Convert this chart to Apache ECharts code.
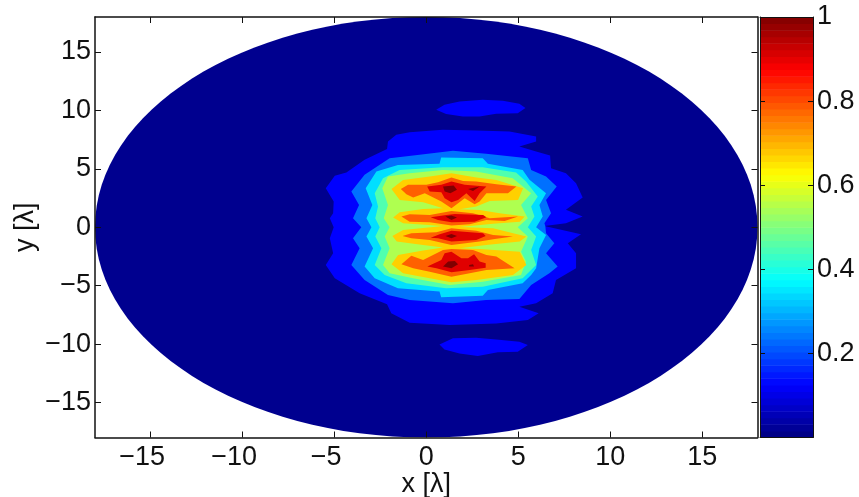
<!DOCTYPE html>
<html>
<head>
<meta charset="utf-8">
<style>html,body{margin:0;padding:0;background:#fff}#c{width:859px;height:497px}</style>
<script src="https://cdn.jsdelivr.net/npm/echarts@6/dist/echarts.min.js"></script>
</head>
<body>
<div id="c"></div>
<script>
const xTicks = [-15,-10,-5,0,5,10,15];
const yTicks = [-15,-10,-5,0,5,10,15];
const barTicks = [0.2,0.4,0.6,0.8,1];
const apertureRadius = 18;
const levelColors = ['#00008f','#0000ff','#0070ff','#00dfff','#50ffaf','#afff50','#ffd000','#ff6000','#e00000','#800000'];

const level1Main = [[-5.03,0],[-5.24,0.77],[-5.06,1.2],[-5.03,2.2],[-5.46,3.34],[-4.97,4.4],[-4.34,4.69],[-3.35,5.77],[-2.13,6.69],[-2.08,7.34],[-1.63,7.91],[-0.9,8.14],[0.9,8.34],[2.71,8.29],[4.52,8.2],[5.97,7.77],[5.97,7.34],[5.06,6.91],[5.97,6.49],[6.73,6.14],[6.78,5.06],[7.59,4.63],[8.14,3.77],[8.5,2.54],[7.59,1.49],[8.5,0.91],[7.59,0.34],[6.42,0.11],[8.41,-0.6],[7.69,-1.37],[8.14,-2.23],[8.14,-3.51],[7.05,-4.51],[6.87,-5.66],[5.97,-6.51],[5.06,-6.8],[6.11,-7.37],[5.52,-7.94],[3.8,-8.23],[1.27,-8.37],[-0.9,-8.17],[-1.9,-7.37],[-2.13,-6.6],[-3.62,-5.66],[-4.97,-4.37],[-5.46,-3.23],[-5.06,-2.23],[-5.24,-0.94]];
const level1Top = [[0.54,10.06],[0.99,10.49],[1.81,10.77],[3.07,10.91],[4.16,10.83],[5.06,10.57],[5.39,10.2],[4.97,9.77],[3.8,9.71],[2.89,9.49],[1.99,9.49],[1.08,9.69]];
const level1Bottom = [[0.72,-10.03],[1.45,-9.51],[2.71,-9.46],[3.8,-9.6],[5.06,-9.8],[5.52,-10.09],[4.97,-10.66],[3.89,-10.71],[2.8,-11.03],[1.81,-10.8],[0.99,-10.46]];
const level2 = [[-3.53,0],[-3.98,0.77],[-3.65,1.91],[-4.07,3.06],[-3.35,4.49],[-1.99,5.91],[-0.36,6.2],[1.45,6.54],[3.25,6.29],[5.52,5.91],[5.7,4.91],[6.51,4.34],[7.09,3.49],[6.51,2.34],[6.78,1.2],[6.42,0.34],[6.47,0.11],[6.51,-0.51],[6.96,-1.37],[6.51,-2.23],[7.14,-3.37],[6.69,-3.94],[5.7,-4.94],[5.06,-6.14],[3.25,-6.23],[1.45,-6.51],[-0.9,-6.23],[-2.08,-5.8],[-3.35,-4.51],[-4.07,-3.23],[-3.62,-1.8],[-3.98,-0.94]];
const level3 = [[-2.98,0],[-3.25,0.77],[-2.93,1.91],[-3.29,3.34],[-2.71,4.77],[-1.54,5.34],[0.72,5.43],[0.81,5.97],[3.07,5.91],[3.35,5.43],[5.24,4.91],[5.61,4.06],[6.51,2.91],[6.15,1.91],[6.33,0.91],[5.97,0],[6.51,-0.66],[6.15,-1.8],[5.97,-3.51],[5.7,-4.09],[5.24,-4.8],[3.35,-5.37],[3.07,-5.86],[0.81,-6.0],[0.72,-5.51],[-1.54,-5.23],[-2.8,-4.37],[-3.35,-3.37],[-2.89,-1.8],[-3.25,-0.8]];
const level4 = [[-2.53,0],[-2.77,0.77],[-2.62,1.77],[-2.8,2.91],[-2.35,4.2],[-1.45,4.91],[0.9,5.14],[3.07,5.14],[4.88,4.69],[5.42,3.91],[6.06,2.63],[5.7,1.77],[5.88,0.91],[5.52,0],[5.97,-0.8],[5.7,-1.94],[5.97,-3.23],[5.24,-4.37],[3.07,-5.09],[1.08,-5.23],[-1.08,-4.8],[-2.26,-4.09],[-2.8,-3.23],[-2.44,-1.8],[-2.77,-0.8]];
const level5 = [[-1.99,0],[-2.31,0.77],[-2.08,1.91],[-2.39,3.34],[-2.08,4.34],[-0.9,4.63],[0.9,4.91],[2.71,4.77],[4.7,4.2],[5.7,2.91],[5.15,1.91],[5.52,0.77],[4.97,0],[5.52,-0.8],[5.15,-2.09],[5.42,-2.94],[5.15,-4.09],[3.07,-4.66],[1.27,-4.94],[-0.72,-4.37],[-1.99,-3.94],[-2.35,-3.23],[-1.99,-1.8],[-2.26,-0.8]];
const level6 = [[-1.89,3.28],[-1.26,4.05],[0.19,4.34],[1.37,4.63],[2.72,4.25],[3.81,4.05],[5.26,3.34],[4.99,2.34],[3.45,2.25],[2.72,1.77],[1.82,1.54],[2.9,1.48],[3.99,1.2],[5.35,0.91],[5.08,0.48],[3.63,0.3],[1.82,0.03],[3.63,-0.09],[5.44,-0.8],[5.08,-1.23],[3.26,-1.51],[1.82,-1.8],[2.9,-1.86],[5.08,-2.09],[5.44,-3.23],[4.71,-4.09],[2.72,-4.51],[1.37,-4.71],[0.19,-4.37],[-1.26,-3.94],[-1.89,-3.17],[-1.53,-2.37],[-0.17,-2.0],[0.91,-1.74],[-0.17,-1.51],[-1.6,-1.23],[-1.84,-0.74],[-1.26,-0.23],[0.91,0.11],[-1.26,0.34],[-1.8,0.83],[-1.44,1.28],[-0.17,1.57],[0.91,1.63],[-0.17,2.14],[-1.44,2.34]];
const level7Band1 = [[-1.38,3.28],[-0.99,3.63],[0.01,3.63],[0.64,3.85],[1.37,4.25],[2.0,3.97],[2.72,3.91],[3.81,3.68],[4.9,3.48],[4.44,2.91],[3.27,2.91],[2.9,2.2],[2.63,1.97],[2.09,2.48],[1.37,1.63],[0.82,2.2],[-0.08,2.91],[-0.71,2.54],[-1.08,2.83]];
const level7Band2 = [[-1.35,0.91],[-0.9,1.11],[0.19,1.05],[1.37,1.4],[2.54,1.2],[3.45,0.77],[4.08,0.83],[4.99,0.91],[4.26,0.54],[3.27,0.63],[2.36,0.25],[1.37,0.14],[0.19,0.43],[-0.9,0.48]];
const level7Band3 = [[-1.29,-0.74],[-0.81,-0.51],[0.55,-0.43],[1.37,-0.09],[2.72,-0.31],[3.63,-0.66],[4.71,-0.8],[3.72,-1.0],[2.9,-1.23],[1.37,-1.51],[0.19,-1.09],[-0.81,-0.94]];
const level7Band4 = [[-1.35,-3.17],[-0.81,-2.43],[-0.17,-2.8],[0.91,-1.94],[1.37,-1.86],[2.54,-1.94],[3.27,-2.37],[3.81,-2.51],[4.8,-3.51],[3.27,-3.66],[2.36,-3.94],[1.37,-4.23],[0.19,-3.8],[-0.71,-3.51]];
const level8Band1 = [[0.05,3.48],[0.82,3.63],[1.37,3.91],[2.09,3.63],[3.27,3.48],[2.9,2.91],[2.63,2.25],[2.18,2.91],[1.73,2.34],[1.37,2.14],[1.0,2.48],[0.82,3.0],[0.19,3.05]];
const level8Band2 = [[0.24,0.85],[1.09,1.05],[1.55,1.14],[3.09,1.05],[3.27,0.85],[2.63,0.48],[1.37,0.43],[0.64,0.63]];
const level8Band3 = [[0.24,-0.89],[0.73,-0.6],[1.37,-0.31],[3.09,-0.51],[3.23,-0.74],[2.72,-1.09],[1.37,-1.23],[0.64,-0.94]];
const level8Band4 = [[0.06,-3.37],[0.82,-2.8],[1.0,-2.23],[1.37,-2.09],[1.91,-2.66],[2.27,-2.66],[2.6,-2.31],[2.9,-2.94],[3.23,-3.09],[3.23,-3.46],[2.36,-3.66],[1.37,-3.86],[0.55,-3.51]];
const level9Peak1 = [[0.91,3.48],[1.49,3.57],[1.67,3.2],[1.31,2.91],[1.0,3.05]];
const level9Peak1b = [[2.27,3.28],[2.9,3.48],[2.54,3.11]];
const level9Peak2 = [[1.04,0.91],[1.37,1.0],[1.67,0.83],[1.37,0.63]];
const level9Peak3 = [[1.04,-0.74],[1.37,-0.57],[1.67,-0.74],[1.37,-0.94]];
const level9Peak4 = [[0.91,-3.37],[1.19,-2.94],[1.55,-2.89],[1.73,-3.17],[1.37,-3.51]];
const level9Peak4b = [[2.33,-3.23],[2.54,-3.17],[2.6,-3.37],[2.33,-3.37]];

const contours = [
  [1,level1Main],[1,level1Top],[1,level1Bottom],[2,level2],[3,level3],[4,level4],[5,level5],[6,level6],
  [7,level7Band1],[7,level7Band2],[7,level7Band3],[7,level7Band4],
  [8,level8Band1],[8,level8Band2],[8,level8Band3],[8,level8Band4],
  [9,level9Peak1],[9,level9Peak1b],[9,level9Peak2],[9,level9Peak3],[9,level9Peak4],[9,level9Peak4b]
];

function jet(t){
  const c = v => Math.round(255*Math.max(0,Math.min(1,1.5-Math.abs(4*t-v))));
  return 'rgb('+c(3)+','+c(2)+','+c(1)+')';
}
const barBands = [];
for(let i=0;i<64;i++) barBands.push([i/64,(i+1)/64,(i+0.5)/64]);

const FS = 27, FF = '"Liberation Sans", Arial, sans-serif';
const fmt = v => String(v).replace('-','\u2212');
function xA(grid,pos,labels,min,max,ticks,margin,lw){
  return {type:'value',gridIndex:grid,position:pos,min,max,splitLine:{show:false},z:6,
    axisLine:{show:true,onZero:false,lineStyle:{color:'#111',width:lw||1.5}},
    axisTick:{show:!!ticks,inside:true,length:grid?5:6,customValues:ticks||[],lineStyle:{color:'#111',width:1}},
    axisLabel:labels?{show:true,customValues:ticks,formatter:fmt,fontSize:FS,fontFamily:FF,color:'#111',margin:margin}:{show:false}};
}
const chart = echarts.init(document.getElementById('c'),null,{renderer:'canvas'});
const xBase = xA(0,'bottom',true,-18,18,xTicks,7);
chart.setOption({
  animation:false,
  backgroundColor:'#fff',
  grid:[
    {left:95,top:17,width:662.5,height:420.5,outerBoundsMode:'none'},
    {left:760,top:17,width:53,height:420.5,outerBoundsMode:'none'}
  ],
  xAxis:[
    {...xBase,
     axisLabel:{...xBase.axisLabel,
       formatter:v=>v<0?'{n|'+fmt(v)+'}':fmt(v),
       rich:{n:{padding:[0,16,0,0],fontSize:FS,fontFamily:FF,color:'#111'}}},
     name:'x [\u03bb]',nameLocation:'middle',nameGap:34,nameMoveOverlap:false,nameTextStyle:{fontSize:FS,fontFamily:FF,color:'#111'}},
    xA(0,'top',false,-18,18,xTicks),
    xA(1,'bottom',false,0,1,null,0,1),
    xA(1,'top',false,0,1,null,0,1)
  ],
  yAxis:[
    {...xA(0,'left',true,-18,18,yTicks,4),name:'y [\u03bb]',nameLocation:'middle',nameGap:56,nameMoveOverlap:false,nameTextStyle:{fontSize:FS,fontFamily:FF,color:'#111'}},
    xA(0,'right',false,-18,18,yTicks),
    xA(1,'left',false,0,1,barTicks,0,1),
    xA(1,'right',true,0,1,barTicks,4,1)
  ],
  series:[
    {type:'custom',xAxisIndex:0,yAxisIndex:0,silent:true,clip:true,z:2,data:[[0,0,apertureRadius]],
     renderItem:(p,api)=>{
       const c=api.coord([api.value(0),api.value(1)]);
       const s=api.size([api.value(2),api.value(2)]);
       return {type:'ellipse',shape:{cx:c[0],cy:c[1],rx:s[0],ry:s[1]},style:{fill:levelColors[0]}};
     }},
    {type:'custom',xAxisIndex:0,yAxisIndex:0,silent:true,clip:true,z:3,
     data:contours.map((c,i)=>[c[1][0][0],c[1][0][1],i]),
     encode:{x:0,y:1},
     renderItem:(p,api)=>{
       const c=contours[api.value(2)];
       return {type:'polygon',shape:{points:c[1].map(q=>api.coord(q))},style:{fill:levelColors[c[0]]}};
     }},
    {type:'custom',xAxisIndex:2,yAxisIndex:2,silent:true,z:2,data:barBands,
     encode:{x:2,y:0},
     renderItem:(p,api)=>{
       const a=api.coord([0,api.value(0)]),b=api.coord([1,api.value(1)]);
       return {type:'rect',shape:{x:a[0],y:b[1],width:b[0]-a[0],height:a[1]-b[1]+0.5},style:{fill:jet(api.value(2))}};
     }}
  ]
});
</script>
</body>
</html>
